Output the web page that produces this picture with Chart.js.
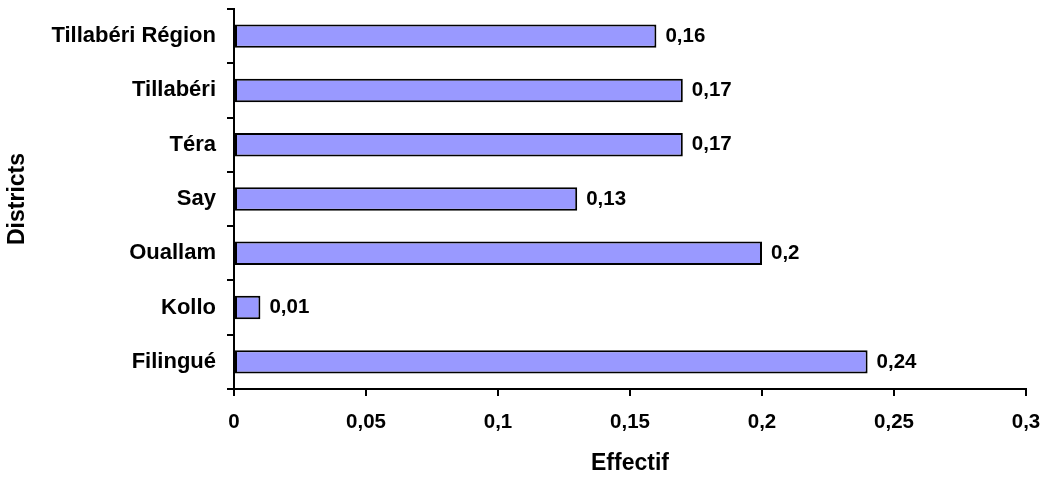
<!DOCTYPE html>
<html>
<head>
<meta charset="utf-8">
<script src="https://cdn.jsdelivr.net/npm/chart.js@4"></script>
<style>
  html, body { margin: 0; padding: 0; background: #fff; }
  #wrap { width: 1047px; height: 479px; }
</style>
</head>
<body>
<div id="wrap"><canvas id="chart" width="1047" height="479"></canvas></div>
<script>
// Data
const districts = ['Tillabéri Région', 'Tillabéri', 'Téra', 'Say', 'Ouallam', 'Kollo', 'Filingué'];
const effectif = [0.16, 0.17, 0.17, 0.13, 0.2, 0.01, 0.24];
const xTicks = [0, 0.05, 0.1, 0.15, 0.2, 0.25, 0.3];

const FONT = 'Liberation Sans, Arial, sans-serif';

// French decimal comma
function frNum(v) {
    return String(+v.toFixed(2)).replace('.', ',');
}

// Draw value labels at the end of each bar
const valueLabels = {
    id: 'valueLabels',
    afterDatasetsDraw(chart) {
        const ctx = chart.ctx;
        const meta = chart.getDatasetMeta(0);
        ctx.save();
        ctx.font = 'bold 20.5px ' + FONT;
        ctx.fillStyle = '#000';
        ctx.textAlign = 'left';
        ctx.textBaseline = 'middle';
        meta.data.forEach((bar, i) => {
            ctx.fillText(frNum(effectif[i]), bar.x + 9, bar.y);
        });
        ctx.restore();
    }
};

const ctx = document.getElementById('chart').getContext('2d');
new Chart(ctx, {
    type: 'bar',
    data: {
        labels: districts,
        datasets: [{
            data: effectif,
            backgroundColor: '#9999FF',
            borderColor: '#000',
            borderWidth: 2,
            borderSkipped: false,
            categoryPercentage: 0.8,
            barPercentage: 0.54
        }]
    },
    options: {
        indexAxis: 'y',
        responsive: false,
        animation: false,
        layout: { padding: { top: 9, right: 21, left: 0, bottom: 0 } },
        plugins: {
            legend: { display: false },
            tooltip: { enabled: false }
        },
        scales: {
            x: {
                min: 0,
                max: 0.3,
                afterBuildTicks: (scale) => { scale.ticks = xTicks.map(v => ({ value: v })); },
                afterFit: (scale) => {
                    scale.height = 90;
                    scale.paddingLeft = 0;
                    scale.paddingRight = 0;
                },
                grid: { drawOnChartArea: false, drawTicks: true, tickLength: 7, color: '#000', lineWidth: 2 },
                border: { display: true, color: '#000', width: 2 },
                ticks: {
                    color: '#000',
                    padding: 14,
                    font: { family: FONT, size: 20.5, weight: 'bold' },
                    callback: (v) => frNum(v),
                    maxRotation: 0
                },
                title: {
                    display: true,
                    text: 'Effectif',
                    color: '#000',
                    font: { family: FONT, size: 23, weight: 'bold' },
                    padding: { top: 0, bottom: 2 }
                }
            },
            y: {
                afterFit: (scale) => {
                    scale.width = 234;
                    scale.paddingTop = 0;
                    scale.paddingBottom = 0;
                },
                grid: { drawOnChartArea: false, drawTicks: true, tickLength: 7, color: '#000', lineWidth: 2, offset: true },
                border: { display: true, color: '#000', width: 2 },
                ticks: {
                    color: '#000',
                    padding: 11,
                    font: { family: FONT, size: 22, weight: 'bold' }
                },
                title: {
                    display: true,
                    text: 'Districts',
                    color: '#000',
                    font: { family: FONT, size: 23, weight: 'bold' },
                    padding: { top: 4, bottom: 0 }
                }
            }
        }
    },
    plugins: [valueLabels]
});
</script>
</body>
</html>
